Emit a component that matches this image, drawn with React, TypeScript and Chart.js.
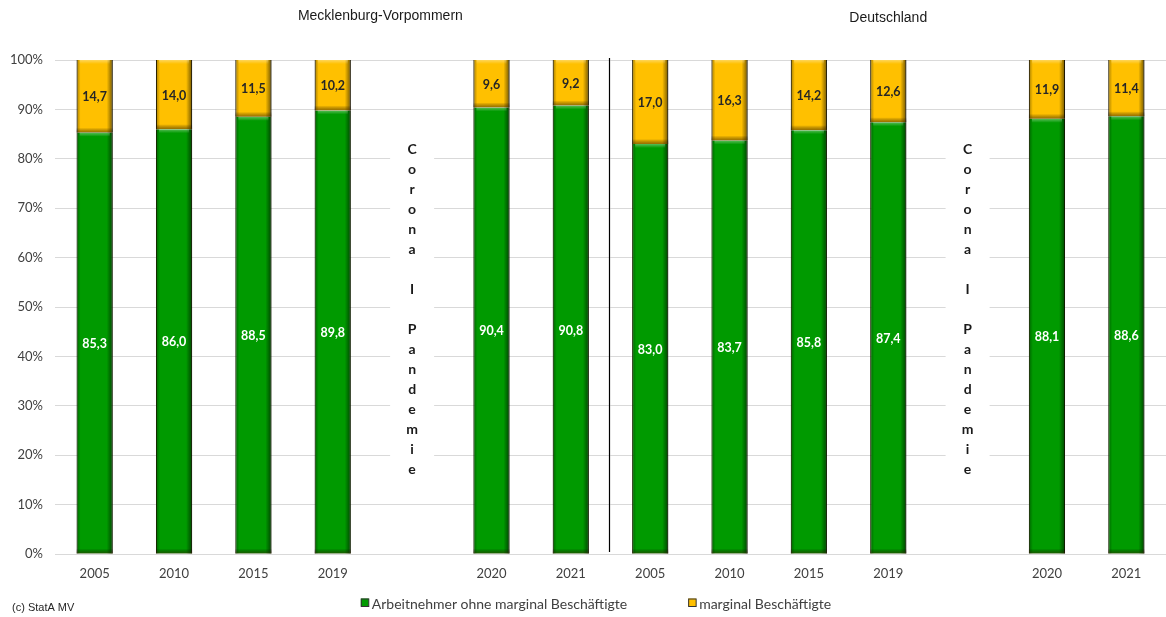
import React, { useEffect, useRef } from "react";
import { Chart, registerables } from "chart.js";

Chart.register(...registerables);

const categories = ["2005", "2010", "2015", "2019", "", "2020", "2021", "2005", "2010", "2015", "2019", "", "2020", "2021"];
const arbeitnehmer = [85.3, 86.0, 88.5, 89.8, null, 90.4, 90.8, 83.0, 83.7, 85.8, 87.4, null, 88.1, 88.6];
const marginal = [14.7, 14.0, 11.5, 10.2, null, 9.6, 9.2, 17.0, 16.3, 14.2, 12.6, null, 11.9, 11.4];
const seriesNames = ["Arbeitnehmer ohne marginal Beschäftigte", "marginal Beschäftigte"];
const regionTitles = ["Mecklenburg-Vorpommern", "Deutschland"];
const regionTitleAt = [3.6, 10.0];
const coronaLines = ["C", "o", "r", "o", "n", "a", "", "I", "", "P", "a", "n", "d", "e", "m", "i", "e"];
const coronaAt = [4, 11];
const separatorAt = 6.5;
const copyright = "(c) StatA MV";

const GREEN = "#009a00";
const YELLOW = "#ffc000";
const TICK_FONT = "Lato, 'Open Sans', sans-serif";

const fmt = (v: number) => v.toFixed(1).replace(".", ",");

const overlayPlugin = {
  id: "overlay",
  afterDatasetsDraw(chart: any) {
    const ctx = chart.ctx;
    chart.data.datasets.forEach((ds: any, di: number) => {
      const meta = chart.getDatasetMeta(di);
      meta.data.forEach((bar: any, i: number) => {
        if (ds.data[i] == null) return;
        const { x, y, base, width } = bar.getProps(["x", "y", "base", "width"], true);
        const l = x - width / 2;
        const r = x + width / 2;
        const t = Math.min(y, base);
        const b = Math.max(y, base);
        ctx.save();
        let g = ctx.createLinearGradient(r - 6, 0, r, 0);
        g.addColorStop(0, "rgba(0,0,0,0)");
        g.addColorStop(1, "rgba(0,0,0,0.55)");
        ctx.fillStyle = g;
        ctx.fillRect(r - 6, t, 6, b - t);
        g = ctx.createLinearGradient(l, 0, l + 4, 0);
        g.addColorStop(0, "rgba(0,0,0,0.35)");
        g.addColorStop(1, "rgba(0,0,0,0)");
        ctx.fillStyle = g;
        ctx.fillRect(l, t, 4, b - t);
        g = ctx.createLinearGradient(0, t, 0, t + 4);
        g.addColorStop(0, "rgba(255,255,255,0.35)");
        g.addColorStop(1, "rgba(255,255,255,0)");
        ctx.fillStyle = g;
        ctx.fillRect(l + 3, t, width - 6, 4);
        g = ctx.createLinearGradient(0, b - 5, 0, b);
        g.addColorStop(0, "rgba(0,0,0,0)");
        g.addColorStop(1, "rgba(60,40,0,0.55)");
        ctx.fillStyle = g;
        ctx.fillRect(l, b - 5, width, 5);
        ctx.restore();
      });
    });
  },
  afterDraw(chart: any) {
    const ctx = chart.ctx;
    const xs = chart.scales.x;
    const ys = chart.scales.y;
    const area = chart.chartArea;
    const px = (v: number) => {
      const a = xs.getPixelForValue(Math.floor(v));
      const b = xs.getPixelForValue(Math.floor(v) + 1);
      return a + (b - a) * (v - Math.floor(v));
    };
    ctx.save();
    const sx = px(separatorAt) - 1;
    ctx.strokeStyle = "#000";
    ctx.lineWidth = 1.2;
    ctx.beginPath();
    ctx.moveTo(sx, area.top - 2);
    ctx.lineTo(sx, area.bottom - 2);
    ctx.stroke();

    ctx.textAlign = "center";
    ctx.textBaseline = "middle";
    chart.data.datasets.forEach((ds: any, di: number) => {
      const meta = chart.getDatasetMeta(di);
      meta.data.forEach((bar: any, i: number) => {
        const v = ds.data[i];
        if (v == null) return;
        const { x, y, base } = bar.getProps(["x", "y", "base"], true);
        ctx.font = `bold 12.5px ${TICK_FONT}`;
        ctx.fillStyle = di === 0 ? "#ffffff" : "#262626";
        ctx.fillText(fmt(v), x, (y + base) / 2 + 1);
      });
    });

    coronaAt.forEach((ci) => {
      const cx = xs.getPixelForValue(ci);
      const cy = ys.getPixelForValue(49.5);
      const lh = 20;
      const startY = cy - ((coronaLines.length - 1) * lh) / 2;
      ctx.fillStyle = "#ffffff";
      ctx.fillRect(cx - 22, startY - 14, 44, (coronaLines.length - 1) * lh + 28);
      ctx.fillStyle = "#1a1a1a";
      ctx.font = `bold 14px ${TICK_FONT}`;
      coronaLines.forEach((ch, k) => {
        if (ch) ctx.fillText(ch, cx, startY + k * lh);
      });
    });

    ctx.font = "14px 'Liberation Sans', Arial, sans-serif";
    ctx.fillStyle = "#1a1a1a";
    regionTitles.forEach((t, k) => {
      ctx.fillText(t, px(regionTitleAt[k]), k === 0 ? 16 : 18);
    });

    ctx.font = `14px ${TICK_FONT}`;
    ctx.textAlign = "left";
    const ly = 603;
    const colors = [GREEN, YELLOW];
    const w0 = ctx.measureText(seriesNames[0]).width;
    const w1 = ctx.measureText(seriesNames[1]).width;
    const gap = 61;
    const total = 11 + w0 + gap + 11 + w1;
    let lx = 596 - total / 2;
    seriesNames.forEach((name, k) => {
      ctx.fillStyle = colors[k];
      ctx.fillRect(lx, ly - 4.5, 8, 8);
      ctx.strokeStyle = "#333";
      ctx.lineWidth = 1;
      ctx.strokeRect(lx + 0.5, ly - 4, 7.5, 7.5);
      ctx.fillStyle = "#404040";
      ctx.fillText(name, lx + 11, ly + 1);
      lx += 11 + (k === 0 ? w0 : w1) + gap;
    });

    ctx.font = "11px 'Liberation Sans', Arial, sans-serif";
    ctx.fillStyle = "#262626";
    ctx.fillText(copyright, 12, 608);
    ctx.restore();
  },
};

export default function App() {
  const ref = useRef<HTMLCanvasElement | null>(null);
  useEffect(() => {
    if (!ref.current) return;
    const chart = new Chart(ref.current, {
      type: "bar",
      data: {
        labels: categories,
        datasets: [
          {
            label: seriesNames[0],
            data: arbeitnehmer as any,
            backgroundColor: GREEN,
            borderColor: "#1f3d00",
            borderWidth: { left: 1, right: 1, top: 0, bottom: 0 } as any,
            categoryPercentage: 1,
            barPercentage: 0.455,
          },
          {
            label: seriesNames[1],
            data: marginal as any,
            backgroundColor: YELLOW,
            borderColor: "#3d2f00",
            borderWidth: { left: 1, right: 1, top: 0, bottom: 0 } as any,
            categoryPercentage: 1,
            barPercentage: 0.455,
          },
        ],
      },
      options: {
        animation: false,
        responsive: false,
        layout: { padding: { top: 60, right: 0, bottom: 35, left: 0 } },
        plugins: { legend: { display: false }, tooltip: { enabled: false } },
        scales: {
          x: {
            stacked: true,
            grid: { display: false, drawTicks: false },
            border: { display: true, color: "#d9d9d9" },
            ticks: { padding: 12, color: "#404040", font: { family: TICK_FONT, size: 13 }, maxRotation: 0, autoSkip: false },
            afterFit: (s: any) => { s.height = 28; },
          },
          y: {
            stacked: true,
            min: 0,
            max: 100,
            grid: { color: "#d9d9d9", drawTicks: false },
            border: { display: false },
            ticks: {
              stepSize: 10,
              padding: 12,
              color: "#404040",
              font: { family: TICK_FONT, size: 13 },
              callback: (v: any) => `${v}%`,
            },
            afterFit: (s: any) => { s.width = 55; },
          },
        },
      },
      plugins: [overlayPlugin],
    });
    return () => chart.destroy();
  }, []);
  return (
    <div style={{ position: "fixed", left: 0, top: 0, width: 1166, height: 617, background: "#fff" }}>
      <canvas ref={ref} width={1166} height={617} style={{ width: 1166, height: 617 }} />
    </div>
  );
}
